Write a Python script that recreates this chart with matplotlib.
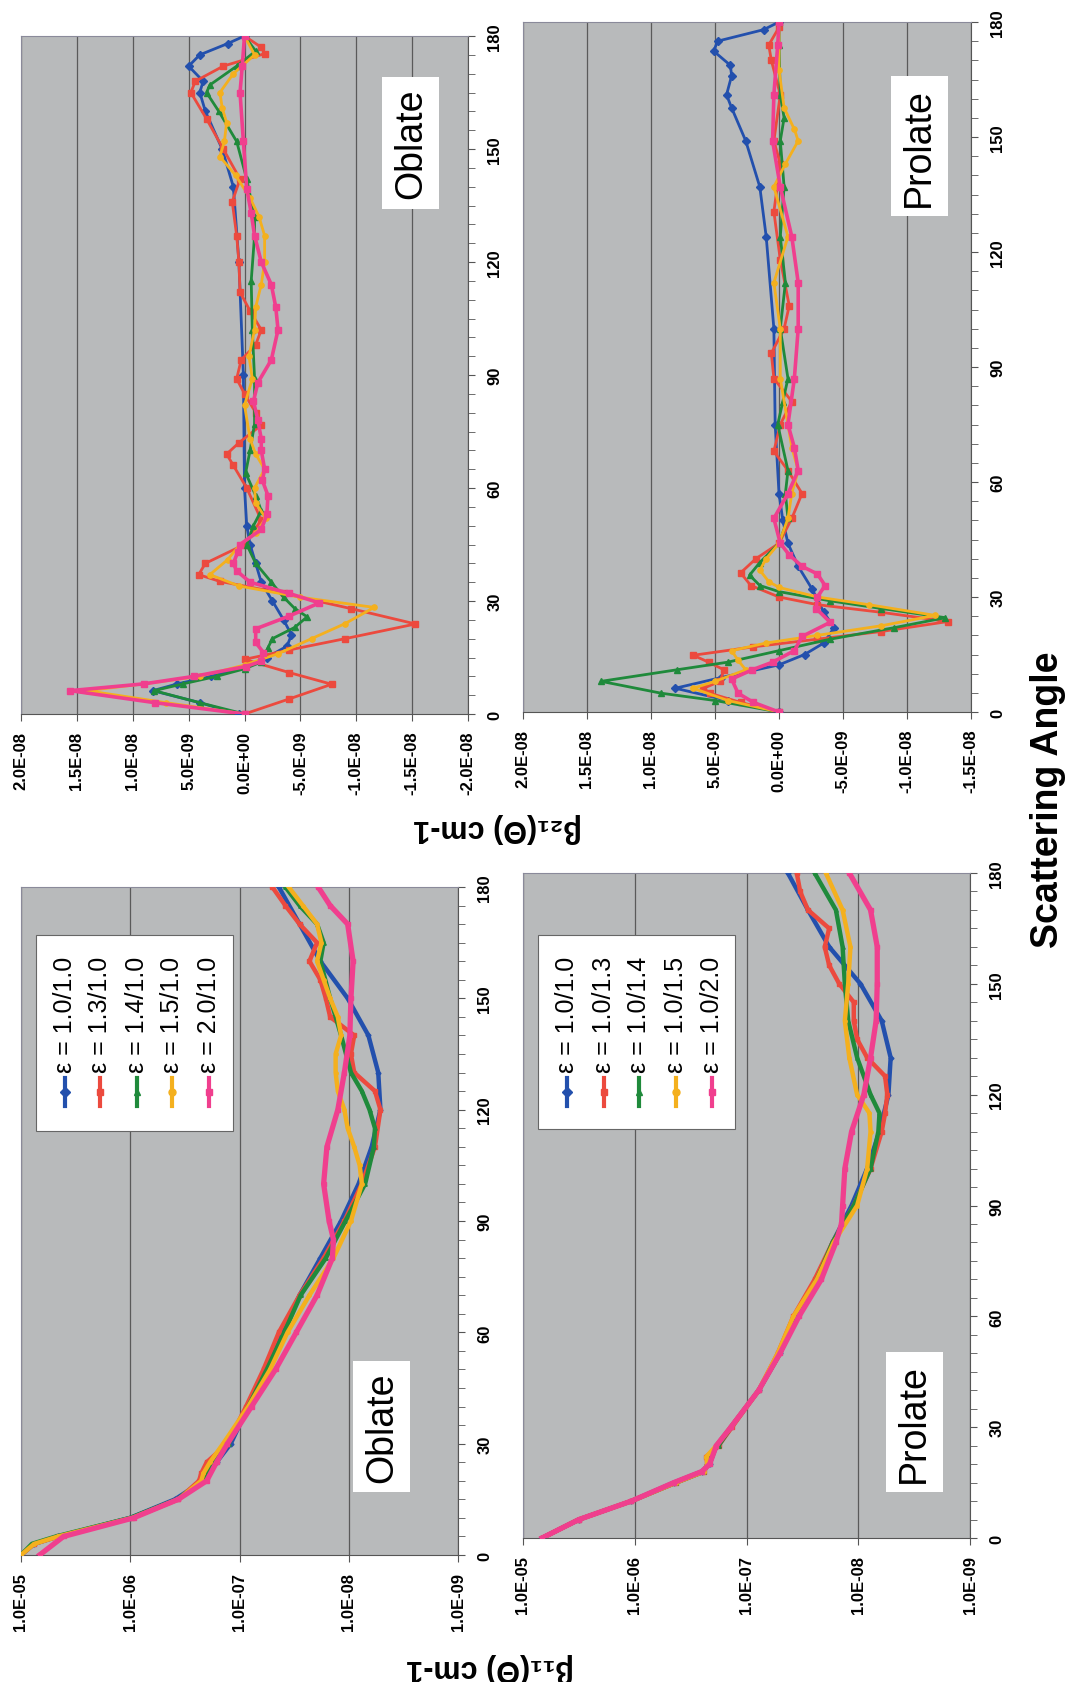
import matplotlib
matplotlib.use('Agg')
import matplotlib.pyplot as plt
import numpy as np
from matplotlib.patches import Rectangle
from matplotlib.ticker import FixedLocator, FixedFormatter, MultipleLocator, NullLocator

plt.rcParams['font.family'] = ['Liberation Sans', 'DejaVu Sans']

# ---- data (angles in degrees) ----
labels_obl = ['ε = 1.0/1.0', 'ε = 1.3/1.0', 'ε = 1.4/1.0', 'ε = 1.5/1.0', 'ε = 2.0/1.0']
labels_pro = ['ε = 1.0/1.0', 'ε = 1.0/1.3', 'ε = 1.0/1.4', 'ε = 1.0/1.5', 'ε = 1.0/2.0']

# beta11, oblate: log10(beta11 / cm-1)
obl11_ang_b = [0, 3, 5, 10, 15, 20, 25, 30, 40, 50, 60, 70, 80, 90, 100, 110, 120, 130, 140, 150, 160, 170, 180]
obl11_log_b = [-5.00, -5.12, -5.34, -6.00, -6.41, -6.67, -6.79, -6.92, -7.08, -7.23, -7.39, -7.55, -7.74, -7.93,
               -8.09, -8.21, -8.29, -8.27, -8.18, -7.99, -7.74, -7.55, -7.36]
obl11_ang_r = [0, 3, 5, 10, 15, 20, 22, 25, 30, 40, 50, 60, 70, 80, 90, 100, 110, 120, 125, 130, 135, 140, 145,
               150, 155, 160, 165, 170, 175, 180]
obl11_log_r = [-5.00, -5.12, -5.34, -6.02, -6.44, -6.63, -6.65, -6.70, -6.89, -7.06, -7.22, -7.36, -7.55, -7.77,
               -7.96, -8.12, -8.24, -8.29, -8.24, -8.05, -8.02, -8.05, -7.83, -7.79, -7.74, -7.64, -7.71, -7.55,
               -7.42, -7.30]
obl11_ang_g = [0, 3, 5, 10, 15, 20, 25, 30, 40, 50, 60, 70, 80, 90, 100, 110, 115, 120, 125, 130, 140, 150, 160,
               165, 170, 175, 180]
obl11_log_g = [-5.00, -5.10, -5.32, -6.00, -6.43, -6.67, -6.74, -6.90, -7.08, -7.25, -7.41, -7.56, -7.79, -7.97,
               -8.15, -8.23, -8.24, -8.19, -8.12, -8.02, -7.93, -7.83, -7.74, -7.77, -7.71, -7.55, -7.42]
obl11_ang_o = [0, 3, 5, 10, 15, 20, 22, 25, 30, 40, 50, 60, 70, 80, 90, 100, 105, 110, 115, 120, 125, 130, 135,
               140, 145, 150, 155, 160, 165, 170, 175, 180]
obl11_log_o = [-5.00, -5.12, -5.34, -6.02, -6.44, -6.65, -6.67, -6.73, -6.85, -7.08, -7.28, -7.44, -7.64, -7.86,
               -8.02, -8.12, -8.10, -8.05, -7.99, -7.96, -7.90, -7.88, -7.88, -7.93, -7.90, -7.83, -7.77, -7.71,
               -7.75, -7.71, -7.58, -7.45]
obl11_ang_p = [0, 5, 10, 15, 20, 25, 30, 40, 50, 60, 70, 80, 85, 90, 100, 110, 120, 130, 140, 150, 160, 170,
               175, 180]
obl11_log_p = [-5.17, -5.39, -6.03, -6.44, -6.70, -6.79, -6.89, -7.11, -7.33, -7.52, -7.71, -7.85, -7.86, -7.82,
               -7.77, -7.80, -7.90, -7.96, -8.01, -8.02, -8.04, -7.99, -7.83, -7.72]

# beta11, prolate: log10(beta11 / cm-1)
pro11_ang_b = [0, 5, 10, 15, 18, 20, 25, 30, 40, 50, 60, 70, 80, 90, 100, 110, 120, 130, 140, 150, 160, 170, 180]
pro11_log_b = [-5.17, -5.50, -5.97, -6.35, -6.60, -6.67, -6.73, -6.86, -7.11, -7.30, -7.45, -7.63, -7.77, -7.94,
               -8.08, -8.19, -8.27, -8.29, -8.21, -8.02, -7.74, -7.55, -7.37]
pro11_ang_r = [0, 5, 10, 15, 18, 20, 22, 25, 30, 40, 50, 60, 70, 80, 90, 100, 110, 115, 120, 125, 130, 135, 140,
               145, 150, 155, 160, 165, 170, 175, 180]
pro11_log_r = [-5.17, -5.50, -5.97, -6.37, -6.62, -6.65, -6.64, -6.75, -6.87, -7.11, -7.28, -7.42, -7.61, -7.77,
               -7.96, -8.11, -8.21, -8.24, -8.26, -8.24, -8.08, -7.99, -7.96, -7.96, -7.83, -7.74, -7.70, -7.74,
               -7.55, -7.48, -7.45]
pro11_ang_g = [0, 5, 10, 15, 18, 20, 22, 25, 30, 40, 50, 60, 70, 80, 90, 100, 110, 115, 120, 130, 140, 150, 160,
               170, 180]
pro11_log_g = [-5.17, -5.50, -5.97, -6.37, -6.62, -6.65, -6.65, -6.75, -6.86, -7.11, -7.30, -7.44, -7.63, -7.77,
               -7.96, -8.11, -8.18, -8.19, -8.11, -7.99, -7.91, -7.88, -7.86, -7.80, -7.61]
pro11_ang_o = [0, 5, 10, 15, 18, 20, 22, 25, 30, 40, 50, 60, 70, 80, 90, 100, 110, 115, 120, 130, 140, 150, 160,
               170, 180]
pro11_log_o = [-5.17, -5.50, -5.97, -6.37, -6.62, -6.65, -6.64, -6.73, -6.86, -7.11, -7.28, -7.42, -7.63, -7.78,
               -7.99, -8.08, -8.11, -8.10, -7.99, -7.92, -7.88, -7.91, -7.93, -7.86, -7.71]
pro11_ang_p = [0, 5, 10, 15, 18, 20, 25, 30, 40, 50, 60, 70, 80, 85, 90, 100, 110, 120, 130, 140, 150, 160, 170, 180]
pro11_log_p = [-5.17, -5.50, -5.97, -6.35, -6.60, -6.67, -6.73, -6.86, -7.11, -7.30, -7.47, -7.67, -7.80, -7.85,
               -7.86, -7.88, -7.94, -8.05, -8.11, -8.16, -8.17, -8.17, -8.11, -7.92]

# beta21, oblate: units of 1E-09 cm-1
obl21_ang_b = [0, 3, 6.2, 8, 10, 12.6, 15, 18, 21, 25, 30, 35, 40, 45, 50, 60, 90, 120, 140, 150, 160, 165, 168,
               172, 175, 178, 180]
obl21_val_b = [0.5, 4, 8.2, 6, 3, 0, -2, -3.8, -4.2, -3.5, -2.5, -1.5, -1.0, -0.5, -0.2, 0, 0.1, 0.5, 1.0, 2.0,
               3.5, 4.0, 3.7, 5.0, 4.0, 1.5, 0]
obl21_ang_r = [0, 4, 7.9, 11, 14.5, 17, 20, 23.9, 28, 32, 35.2, 37, 40, 45, 51.5, 60, 66, 69, 72, 76.7, 80, 85,
               89, 94, 98, 102, 107, 112, 120, 127, 136, 142, 150, 158, 165, 168, 172, 175.3, 177, 180]
obl21_val_r = [0, -4, -7.8, -4, 0, -4, -9, -15.3, -9.5, -3.5, 2.2, 4.1, 3.5, 0, -1.5, -0.2, 1.0, 1.6, 0.5, -1.5,
               -1.0, 0, 0.7, 0.3, -1.0, -1.5, -0.5, 0.4, 0.5, 0.7, 1.1, 0.4, 1.9, 3.4, 4.8, 4.4, 1.9, -1.8, -1.5, 0]
obl21_ang_g = [0, 3, 6.2, 8, 10, 12, 13.8, 17.6, 20, 23, 25.8, 28, 31, 35, 40, 45, 50, 54, 58, 64, 70, 77, 89,
               102, 115, 127, 132, 142, 152, 160, 165, 167, 172, 176, 180]
obl21_val_g = [0, 4, 8.1, 5.5, 2.5, 0, -1.5, -2.1, -2.5, -4.5, -5.6, -4.5, -3.5, -2.4, -1.0, -0.2, -0.8, -1.5,
               -1.0, -0.1, -0.5, -0.9, -0.9, -0.7, -0.6, -0.9, -0.9, -0.2, 0.7, 2.3, 3.4, 3.1, 0.7, -1.0, 0]
obl21_ang_o = [0, 3, 6.2, 8, 10, 13, 16, 20, 24, 28.3, 31, 34, 37, 41, 45, 48, 52, 56, 60, 65, 69, 73, 82, 89,
               95, 102, 108, 114, 120, 127, 132, 137, 143, 148, 152, 157, 161, 165, 170, 175, 180]
obl21_val_o = [0, 7, 14.1, 9, 4, 0, -3, -6, -9, -11.6, -5, 0.5, 3.1, 1.5, 0.4, -1.0, -1.9, -1.0, -0.9, -1.8,
               -1.0, -0.5, 0, -0.7, -0.4, -0.9, -1.0, -1.5, -1.8, -1.8, -1.3, -0.5, 0.8, 2.2, 1.8, 1.6, 2.0, 2.2,
               1.0, -0.9, 0]
obl21_ang_p = [0, 3, 6.2, 8, 10, 12.6, 14, 16.3, 19, 22.6, 26, 29.5, 32, 35, 38, 40, 43, 45, 49, 53, 58, 62, 65,
               70, 73, 78, 83, 88, 94, 102, 108, 114, 120, 127, 133, 139.5, 152, 165, 172, 180]
obl21_val_p = [0, 8, 15.6, 9, 4.5, -0.1, -1.5, -1.7, -1.0, -1.0, -4, -6.7, -4, -0.5, 0.7, 1.0, 0.6, 0.4, -1.5,
               -2.0, -2.1, -1.6, -1.8, -1.5, -1.5, -1.2, -0.8, -1.2, -2.4, -3.0, -2.8, -2.4, -1.5, -0.9, -0.6,
               -0.2, 0.1, 0.4, 0.2, 0]

# beta21, prolate: units of 1E-09 cm-1
pro21_ang_b = [0, 3, 6.2, 9, 12.3, 15, 18, 22, 26, 32, 38, 44, 50, 57, 75, 100, 124, 137, 149, 157.6, 161, 166,
               168.7, 172.4, 175, 178, 180]
pro21_val_b = [0, 4, 8.1, 4.5, 0, -2, -3.5, -4.3, -3.5, -2.6, -1.5, -0.7, -0.3, 0, 0.3, 0.4, 1.0, 1.5, 2.6, 3.7,
               4.1, 3.7, 3.8, 5.1, 4.8, 1.2, 0]
pro21_ang_r = [0, 2.5, 4.9, 6.2, 8, 11, 13, 14.8, 17, 19, 21, 23.6, 26, 28, 30, 33, 36.3, 40, 44, 50.5, 57, 63,
               68, 75, 81, 87, 93.6, 100, 106, 118, 130.5, 143, 149, 161, 170, 174, 178.6, 180]
pro21_val_r = [0, 3, 5.4, 5.9, 4.6, 4.3, 5.5, 6.7, 2, -3, -8, -13.2, -8, -3, 0, 2.2, 3.0, 1.8, 0, -1.0, -1.8,
               -0.7, 0.4, -0.1, -1.0, 0.4, 0.6, -0.4, -0.8, -0.1, 0.4, -0.1, 0.4, -0.1, 0.6, 0.8, 0, 0]
pro21_ang_g = [0, 3, 4.9, 8, 11, 13, 16, 19, 22, 24.6, 27, 29, 31.4, 33, 35.7, 39, 44, 50.5, 57, 63, 75, 81, 87,
               100, 112, 124, 137, 149, 155, 161, 174, 180]
pro21_val_g = [0, 5, 9.2, 13.9, 8, 4, 0, -4, -9, -13.0, -8, -4, 0, 1.5, 2.3, 1.5, 0, -0.7, -0.5, -0.7, 0.1, -0.3,
               -0.7, -0.1, -0.5, -0.1, -0.4, -0.1, -0.4, -0.1, 0, 0]
pro21_ang_o = [0, 3, 6.2, 8, 11, 13.5, 16, 18, 20, 22.5, 25.2, 28, 30, 32.5, 34, 37, 40, 44, 50.5, 57, 63, 69,
               75, 87, 100, 112, 124, 137, 143, 149, 152, 157.6, 167.5, 180]
pro21_val_o = [0, 4, 6.7, 5, 2.6, 3.2, 3.7, 1, -3, -8, -12.2, -7, -3, 0, 0.8, 1.5, 1.0, 0, -0.7, -1.0, -1.5,
               -1.0, -0.7, -0.1, -0.1, 0.4, -0.7, 0.4, -0.5, -1.5, -1.2, -0.4, 0, 0]
pro21_ang_p = [0, 2.5, 4.9, 8.6, 11, 13, 16, 19.7, 23.4, 27, 30, 33, 36, 38, 41, 44, 50.5, 57, 63, 69, 75, 87,
               100, 112, 124, 137, 149, 161, 174, 180]
pro21_val_p = [0, 2, 3.2, 3.7, 2.1, 0.5, -1.2, -1.8, -4.0, -2.9, -3.0, -3.6, -3.0, -1.8, -0.8, -0.1, 0.4, -0.7,
               -1.5, -1.2, -0.7, -1.2, -1.5, -1.5, -1.0, -0.1, 0.5, 0.4, 0.1, 0]

# axis ticks
b11_ticks = [1e-5, 1e-6, 1e-7, 1e-8, 1e-9]
b11_ticklabels = ['1.0E-05', '1.0E-06', '1.0E-07', '1.0E-08', '1.0E-09']
obl21_ticks = [20, 15, 10, 5, 0, -5, -10, -15, -20]
obl21_ticklabels = ['2.0E-08', '1.5E-08', '1.0E-08', '5.0E-09', '0.0E+00', '-5.0E-09', '-1.0E-08', '-1.5E-08', '-2.0E-08']
pro21_ticks = [20, 15, 10, 5, 0, -5, -10, -15]
pro21_ticklabels = ['2.0E-08', '1.5E-08', '1.0E-08', '5.0E-09', '0.0E+00', '-5.0E-09', '-1.0E-08', '-1.5E-08']

colors = ['#2350ad', '#ec4a3e', '#1f8a3b', '#f4b01e', '#f03f8e']
markers = ['D', 's', '^', 'o', 's']
PANEL_BG = '#b8babb'

W, H = 1071, 1683
fig = plt.figure(figsize=(W / 100, H / 100), dpi=100)


def px_axes(x0, y0, x1, y1):
    # panel box given in image pixels (top-left origin)
    return fig.add_axes([x0 / W, 1 - y1 / H, (x1 - x0) / W, (y1 - y0) / H])


def style(ax, ticks, ticklabels, log=False):
    ax.set_facecolor(PANEL_BG)
    if log:
        ax.set_xscale('log')
    ax.set_xlim(ticks[0], ticks[-1])
    ax.xaxis.set_major_locator(FixedLocator(ticks))
    ax.xaxis.set_major_formatter(FixedFormatter(ticklabels))
    ax.xaxis.set_minor_locator(NullLocator())
    ax.set_ylim(0, 180)
    ax.yaxis.tick_right()
    ax.yaxis.set_major_locator(MultipleLocator(30))
    ax.yaxis.set_minor_locator(MultipleLocator(5))
    ax.grid(axis='x', color='#5a5a5a', lw=0.9)
    ax.set_axisbelow(True)
    ax.tick_params(axis='x', length=5, pad=7, labelsize=12, color='#555555')
    ax.tick_params(axis='y', which='both', direction='out', length=5, pad=9, labelsize=12, color='#555555')
    for lab in ax.get_xticklabels():
        lab.set_rotation(90)
        lab.set_fontweight('bold')
    for lab in ax.get_yticklabels():
        lab.set_rotation(90)
        lab.set_fontweight('bold')
        lab.set_va('center')
    for side in ['top', 'left']:
        ax.spines[side].set_color('#8a8a9a')
    for side in ['bottom', 'right']:
        ax.spines[side].set_color('#555555')


def tag(ax, text, cx, cy):
    ax.text(cx, cy, text, transform=ax.transAxes, rotation=90, fontsize=27, ha='center', va='center',
            zorder=6, bbox=dict(facecolor='white', edgecolor='none', boxstyle='square,pad=0.28'))


def legend(ax, labels, box, xs, y_line, y_text):
    ax.add_patch(Rectangle((box[0], box[1]), box[2] - box[0], box[3] - box[1], transform=ax.transAxes,
                           facecolor='white', edgecolor='#666666', lw=0.8, zorder=7))
    for x, lab, c, m in zip(xs, labels, colors, markers):
        ax.plot([x, x], y_line, transform=ax.transAxes, color=c, lw=3, zorder=8)
        ax.plot([x], [sum(y_line) / 2], transform=ax.transAxes, color=c, marker=m, ms=5, zorder=9)
        ax.text(x, y_text, lab, transform=ax.transAxes, rotation=90, ha='center', va='bottom',
                fontsize=18, zorder=9)


# ---- panels ----
ax_o21 = px_axes(21, 37, 468, 715)
ax_p21 = px_axes(523, 23, 971, 713)
ax_o11 = px_axes(21, 888, 458, 1556)
ax_p11 = px_axes(523, 874, 970, 1539)

style(ax_o21, [v * 1e-9 for v in obl21_ticks], obl21_ticklabels)
style(ax_p21, [v * 1e-9 for v in pro21_ticks], pro21_ticklabels)
style(ax_o11, b11_ticks, b11_ticklabels, log=True)
style(ax_p11, b11_ticks, b11_ticklabels, log=True)

obl21 = [(obl21_ang_b, obl21_val_b), (obl21_ang_r, obl21_val_r), (obl21_ang_g, obl21_val_g),
         (obl21_ang_o, obl21_val_o), (obl21_ang_p, obl21_val_p)]
pro21 = [(pro21_ang_b, pro21_val_b), (pro21_ang_r, pro21_val_r), (pro21_ang_g, pro21_val_g),
         (pro21_ang_o, pro21_val_o), (pro21_ang_p, pro21_val_p)]
obl11 = [(obl11_ang_b, obl11_log_b), (obl11_ang_r, obl11_log_r), (obl11_ang_g, obl11_log_g),
         (obl11_ang_o, obl11_log_o), (obl11_ang_p, obl11_log_p)]
pro11 = [(pro11_ang_b, pro11_log_b), (pro11_ang_r, pro11_log_r), (pro11_ang_g, pro11_log_g),
         (pro11_ang_o, pro11_log_o), (pro11_ang_p, pro11_log_p)]

for ax, sets in [(ax_o21, obl21), (ax_p21, pro21)]:
    for i, (ang, val) in enumerate(sets):
        lw = 2.6 if i == 4 else 2.0
        ax.plot(np.array(val) * 1e-9, ang, color=colors[i], lw=lw, marker=markers[i], ms=3.8, zorder=3 + i * 0.1)

for ax, sets in [(ax_o11, obl11), (ax_p11, pro11)]:
    for i, (ang, lg) in enumerate(sets):
        lw = 3.8 if i == 4 else 3.2
        ax.plot(10 ** np.array(lg), ang, color=colors[i], lw=lw, marker=markers[i], ms=2.5, zorder=3 + i * 0.1)

tag(ax_o21, 'Oblate', 0.872, 0.842)
tag(ax_p21, 'Prolate', 0.884, 0.820)
tag(ax_o11, 'Oblate', 0.826, 0.192)
tag(ax_p11, 'Prolate', 0.875, 0.174)

legend(ax_o11, labels_obl, (0.034, 0.635, 0.485, 0.928), [0.101, 0.181, 0.265, 0.346, 0.430], (0.672, 0.714), 0.723)
legend(ax_p11, labels_pro, (0.034, 0.615, 0.474, 0.907), [0.098, 0.181, 0.259, 0.342, 0.423], (0.650, 0.692), 0.701)

fig.text(490 / W, 1 - 1668 / H, 'β₁₁(Θ) cm-1', rotation=180, ha='center', va='center', fontsize=22, fontweight='bold')
fig.text(498 / W, 1 - 828 / H, 'β₂₁(Θ) cm-1', rotation=180, ha='center', va='center', fontsize=22, fontweight='bold')
fig.text(1048 / W, 1 - 800 / H, 'Scattering Angle', rotation=90, ha='center', va='center', fontsize=27,
         fontweight='bold')

fig.savefig('out.png', dpi=100)
